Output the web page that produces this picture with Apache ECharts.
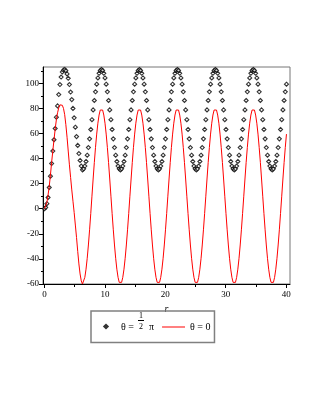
<!DOCTYPE html>
<html>
<head>
<meta charset="utf-8">
<script src="https://cdn.jsdelivr.net/npm/echarts@6.0.0/dist/echarts.min.js"></script>
<style>
html,body{margin:0;padding:0;background:#fff;}
#chart{width:316px;height:409px;}
</style>
</head>
<body>
<div id="chart"></div>
<script>
// r sample positions
const rValues = [
0, 0.196, 0.393, 0.589, 0.785, 0.982, 1.178, 1.374, 1.571, 1.767, 1.963, 2.16, 2.356, 2.553, 2.749, 2.945, 3.142, 3.338, 3.534, 3.731, 3.927, 4.123, 4.32, 4.516, 4.712, 4.909, 5.105, 5.301, 5.498, 5.694, 5.89, 6.087,
6.283, 6.48, 6.676, 6.872, 7.069, 7.265, 7.461, 7.658, 7.854, 8.05, 8.247, 8.443, 8.639, 8.836, 9.032, 9.228, 9.425, 9.621, 9.817, 10.014, 10.21, 10.407, 10.603, 10.799, 10.996, 11.192, 11.388, 11.585, 11.781, 11.977, 12.174, 12.37,
12.566, 12.763, 12.959, 13.155, 13.352, 13.548, 13.744, 13.941, 14.137, 14.334, 14.53, 14.726, 14.923, 15.119, 15.315, 15.512, 15.708, 15.904, 16.101, 16.297, 16.493, 16.69, 16.886, 17.082, 17.279, 17.475, 17.671, 17.868, 18.064, 18.261, 18.457, 18.653,
18.85, 19.046, 19.242, 19.439, 19.635, 19.831, 20.028, 20.224, 20.42, 20.617, 20.813, 21.009, 21.206, 21.402, 21.598, 21.795, 21.991, 22.188, 22.384, 22.58, 22.777, 22.973, 23.169, 23.366, 23.562, 23.758, 23.955, 24.151, 24.347, 24.544, 24.74, 24.936,
25.133, 25.329, 25.525, 25.722, 25.918, 26.114, 26.311, 26.507, 26.704, 26.9, 27.096, 27.293, 27.489, 27.685, 27.882, 28.078, 28.274, 28.471, 28.667, 28.863, 29.06, 29.256, 29.452, 29.649, 29.845, 30.041, 30.238, 30.434, 30.631, 30.827, 31.023, 31.22,
31.416, 31.612, 31.809, 32.005, 32.201, 32.398, 32.594, 32.79, 32.987, 33.183, 33.379, 33.576, 33.772, 33.968, 34.165, 34.361, 34.558, 34.754, 34.95, 35.147, 35.343, 35.539, 35.736, 35.932, 36.128, 36.325, 36.521, 36.717, 36.914, 37.11, 37.306, 37.503,
37.699, 37.896, 38.092, 38.288, 38.485, 38.681, 38.877, 39.074, 39.27, 39.466, 39.663, 39.859, 40.055
];

// theta = pi/2 (point plot)
const thetaHalfPi = [
0, 1, 4, 9, 17, 26, 36, 46, 55, 64, 73, 82, 91, 99, 105, 109, 110.5, 111, 110, 107.5, 104, 99, 93, 87, 80, 72.5, 65, 57.5, 50.5, 44, 38.5, 34,
31, 31.8, 34, 37.7, 42.7, 48.8, 55.7, 63.2, 71, 78.8, 86.3, 93.2, 99.3, 104.3, 108, 110.2, 111, 110.2, 108, 104.3, 99.3, 93.2, 86.3, 78.8, 71, 63.2, 55.7, 48.8, 42.7, 37.7, 34, 31.8,
31, 31.8, 34, 37.7, 42.7, 48.8, 55.7, 63.2, 71, 78.8, 86.3, 93.2, 99.3, 104.3, 108, 110.2, 111, 110.2, 108, 104.3, 99.3, 93.2, 86.3, 78.8, 71, 63.2, 55.7, 48.8, 42.7, 37.7, 34, 31.8,
31, 31.8, 34, 37.7, 42.7, 48.8, 55.7, 63.2, 71, 78.8, 86.3, 93.2, 99.3, 104.3, 108, 110.2, 111, 110.2, 108, 104.3, 99.3, 93.2, 86.3, 78.8, 71, 63.2, 55.7, 48.8, 42.7, 37.7, 34, 31.8,
31, 31.8, 34, 37.7, 42.7, 48.8, 55.7, 63.2, 71, 78.8, 86.3, 93.2, 99.3, 104.3, 108, 110.2, 111, 110.2, 108, 104.3, 99.3, 93.2, 86.3, 78.8, 71, 63.2, 55.7, 48.8, 42.7, 37.7, 34, 31.8,
31, 31.8, 34, 37.7, 42.7, 48.8, 55.7, 63.2, 71, 78.8, 86.3, 93.2, 99.3, 104.3, 108, 110.2, 111, 110.2, 108, 104.3, 99.3, 93.2, 86.3, 78.8, 71, 63.2, 55.7, 48.8, 42.7, 37.7, 34, 31.8,
31, 31.8, 34, 37.7, 42.7, 48.8, 55.7, 63.2, 71, 78.8, 86.3, 93.2, 99.3
];

// theta = 0 (line)
const thetaZero = [
0, 1.5, 5, 11, 18, 27, 37, 46, 55, 63.5, 71, 76.5, 80.5, 82.8, 83.5, 82.5, 80, 75, 67, 57, 46, 35, 25, 15, 6, -3, -13, -23, -34, -44, -52, -57.5,
-60, -58.7, -54.7, -48.2, -39.5, -28.9, -16.8, -3.7, 10, 23.7, 36.8, 48.9, 59.5, 68.2, 74.7, 78.7, 80, 78.7, 74.7, 68.2, 59.5, 48.9, 36.8, 23.7, 10, -3.7, -16.8, -28.9, -39.5, -48.2, -54.7, -58.7,
-60, -58.7, -54.7, -48.2, -39.5, -28.9, -16.8, -3.7, 10, 23.7, 36.8, 48.9, 59.5, 68.2, 74.7, 78.7, 80, 78.7, 74.7, 68.2, 59.5, 48.9, 36.8, 23.7, 10, -3.7, -16.8, -28.9, -39.5, -48.2, -54.7, -58.7,
-60, -58.7, -54.7, -48.2, -39.5, -28.9, -16.8, -3.7, 10, 23.7, 36.8, 48.9, 59.5, 68.2, 74.7, 78.7, 80, 78.7, 74.7, 68.2, 59.5, 48.9, 36.8, 23.7, 10, -3.7, -16.8, -28.9, -39.5, -48.2, -54.7, -58.7,
-60, -58.7, -54.7, -48.2, -39.5, -28.9, -16.8, -3.7, 10, 23.7, 36.8, 48.9, 59.5, 68.2, 74.7, 78.7, 80, 78.7, 74.7, 68.2, 59.5, 48.9, 36.8, 23.7, 10, -3.7, -16.8, -28.9, -39.5, -48.2, -54.7, -58.7,
-60, -58.7, -54.7, -48.2, -39.5, -28.9, -16.8, -3.7, 10, 23.7, 36.8, 48.9, 59.5, 68.2, 74.7, 78.7, 80, 78.7, 74.7, 68.2, 59.5, 48.9, 36.8, 23.7, 10, -3.7, -16.8, -28.9, -39.5, -48.2, -54.7, -58.7,
-60, -58.7, -54.7, -48.2, -39.5, -28.9, -16.8, -3.7, 10, 23.7, 36.8, 48.9, 59.5
];

const xTickLabels = [0, 10, 20, 30, 40];
const xMinorTicks = [5, 15, 25, 35];
const yTickLabels = [-60, -40, -20, 0, 20, 40, 60, 80, 100];
const yMinorTicks = [-50, -30, -10, 10, 30, 50, 70, 90, 110];

const nameHalf = 'θ = 1/2 π';
const nameZero = 'θ = 0';

const serif = '"Liberation Serif", "DejaVu Serif", serif';

const chart = echarts.init(document.getElementById('chart'), null, {renderer: 'canvas'});
const pairs = (ys) => rValues.map((r, i) => [r, ys[i]]);

chart.setOption({
  animation: false,
  backgroundColor: '#fff',
  grid: {left: 43, right: 26, top: 67, bottom: 125, show: true, borderColor: '#777', borderWidth: 1, backgroundColor: 'transparent'},
  xAxis: [
    {type: 'value', min: -0.25, max: 40.64, position: 'bottom',
     axisLine: {show: true, onZero: false, lineStyle: {color: '#000', width: 1}},
     axisTick: {show: true, customValues: xTickLabels, length: 4, lineStyle: {color: '#000'}},
     axisLabel: {customValues: xTickLabels, color: '#000', fontFamily: serif, fontSize: 9, margin: 6},
     splitLine: {show: false},
     name: 'r', nameLocation: 'middle', nameGap: 16,
     nameTextStyle: {fontFamily: serif, fontStyle: 'italic', fontSize: 10, color: '#000'}},
    {type: 'value', min: -0.25, max: 40.64, position: 'bottom',
     axisLine: {show: false, onZero: false},
     axisTick: {show: true, customValues: xMinorTicks, length: 3, lineStyle: {color: '#000'}},
     axisLabel: {show: false}, splitLine: {show: false}}
  ],
  yAxis: [
    {type: 'value', min: -60, max: 113, position: 'left',
     axisLine: {show: true, onZero: false, lineStyle: {color: '#000', width: 1}},
     axisTick: {show: true, customValues: yTickLabels, length: 4, lineStyle: {color: '#000'}},
     axisLabel: {customValues: yTickLabels, color: '#000', fontFamily: serif, fontSize: 9, margin: 4},
     splitLine: {show: false}},
    {type: 'value', min: -60, max: 113, position: 'left',
     axisLine: {show: false, onZero: false},
     axisTick: {show: true, customValues: yMinorTicks, length: 2, lineStyle: {color: '#000'}},
     axisLabel: {show: false}, splitLine: {show: false}}
  ],
  legend: {
    left: 91, top: 311, orient: 'horizontal',
    itemWidth: 23, itemHeight: 26, itemGap: 8,
    padding: [1, 4, 1, 1],
    borderColor: '#808080', borderWidth: 1.5,
    data: [
      {name: nameHalf, icon: 'path://M0,0M23,26M11.3,12L13,10.3L14.7,12L13,13.7Z'},
      {name: nameZero, icon: 'path://M0,0M23,26M0,12L23,12L23,13L0,13Z'}
    ],
    formatter: function (name) {
      if (name === nameHalf) {
        return '{s| }{n|1}\n{s2| }\n{t|θ = }{n2|2}{p|π}\n{e| }';
      }
      return '{z|θ = 0}';
    },
    textStyle: {
      fontFamily: serif, color: '#000', fontSize: 10,
      rich: {
        s: {width: 18, fontSize: 3, lineHeight: 3},
        n: {width: 6, fontSize: 8, lineHeight: 3, fontFamily: serif, color: '#000'},
        s2: {width: 18, fontSize: 5, lineHeight: 5},
        t: {width: 18, fontSize: 10, lineHeight: 9, fontFamily: serif, color: '#000'},
        n2: {width: 6, fontSize: 8, lineHeight: 9, fontFamily: serif, color: '#000'},
        p: {fontSize: 10, lineHeight: 9, padding: [0, 0, 0, 4], fontFamily: serif, color: '#000'},
        e: {fontSize: 9, lineHeight: 9},
        z: {fontSize: 10, lineHeight: 10, fontFamily: serif, color: '#000'}
      }
    }
  },
  graphic: [
    {type: 'line', silent: true, z: 10,
     shape: {x1: 138, y1: 320.5, x2: 144, y2: 320.5},
     style: {stroke: '#000', lineWidth: 1}}
  ],
  series: [
    {name: nameHalf, type: 'scatter', data: pairs(thetaHalfPi),
     symbol: 'diamond', symbolSize: 4, clip: false,
     itemStyle: {color: '#fff', borderColor: '#000', borderWidth: 1.1}},
    {name: nameZero, type: 'line', data: pairs(thetaZero),
     showSymbol: false, symbol: 'none', smooth: false,
     lineStyle: {color: '#ff0000', width: 1},
     itemStyle: {color: '#ff0000'}}
  ]
});
</script>
</body>
</html>
